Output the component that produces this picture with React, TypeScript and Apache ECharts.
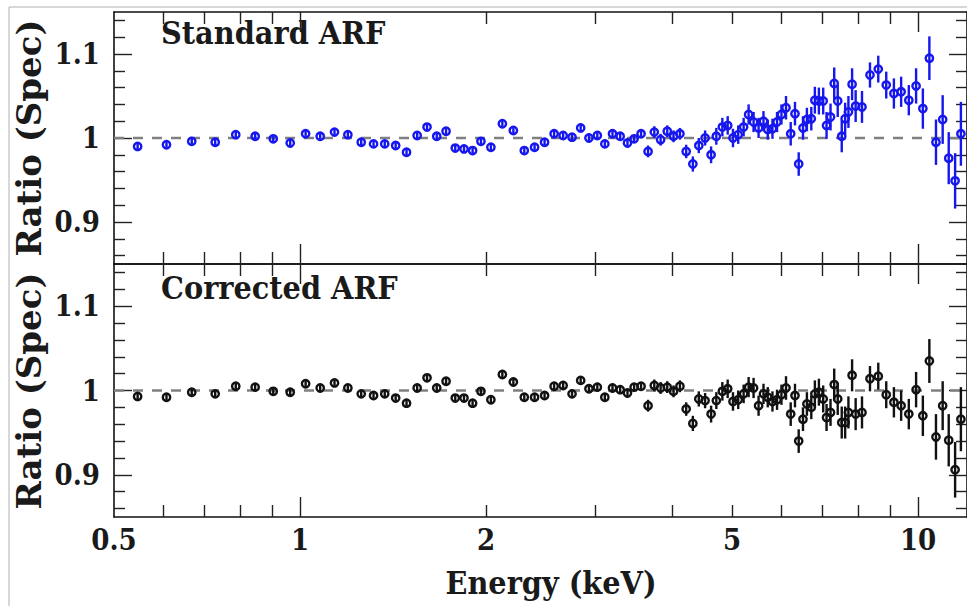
import * as echarts from 'echarts';
import React, { useEffect, useRef } from 'react';

// energies of the spectral bins (keV)
const energy = [
  0.546, 0.608, 0.668, 0.729, 0.787, 0.846, 0.905, 0.964, 1.021, 1.078,
  1.137, 1.195, 1.256, 1.315, 1.371, 1.428, 1.487, 1.547, 1.605, 1.664,
  1.723, 1.783, 1.842, 1.902, 1.962, 2.036, 2.125, 2.214, 2.306, 2.396,
  2.487, 2.577, 2.665, 2.755, 2.845, 2.934, 3.027, 3.113, 3.203, 3.296,
  3.387, 3.472, 3.563, 3.657, 3.743, 3.832, 3.928, 4.021, 4.118, 4.215,
  4.321, 4.418, 4.523, 4.625, 4.716, 4.823, 4.92, 5.018, 5.117, 5.221,
  5.319, 5.418, 5.52, 5.622, 5.712, 5.813, 5.913, 6.011, 6.114, 6.222,
  6.322, 6.41, 6.513, 6.609, 6.718, 6.808, 6.911, 7.023, 7.111, 7.217,
  7.317, 7.413, 7.525, 7.621, 7.715, 7.821, 7.925, 8.115, 8.36, 8.622,
  8.882, 9.139, 9.389, 9.661, 9.927, 10.18, 10.43, 10.69, 10.96, 11.21,
  11.48, 11.73,
];

const ratioStandard = [
  0.990, 0.992, 0.996, 0.995, 1.004, 1.002, 0.999, 0.994, 1.005, 1.002,
  1.007, 1.004, 0.995, 0.993, 0.993, 0.991, 0.983, 1.003, 1.013, 1.002,
  1.008, 0.988, 0.987, 0.985, 0.996, 0.989, 1.017, 1.009, 0.985, 0.989,
  0.995, 1.005, 1.003, 1.001, 1.012, 1.000, 1.003, 0.993, 1.005, 1.002,
  0.994, 0.999, 1.005, 0.984, 1.007, 0.998, 1.008, 1.002, 1.005, 0.984,
  0.969, 0.991, 1.000, 0.980, 1.002, 1.013, 1.015, 1.000, 1.004, 1.013,
  1.028, 1.019, 1.012, 1.020, 1.010, 1.011, 1.019, 1.028, 1.036, 1.005,
  1.029, 0.969, 1.012, 1.022, 1.023, 1.045, 1.044, 1.044, 1.015, 1.025,
  1.065, 1.044, 1.002, 1.023, 1.031, 1.064, 1.038, 1.037, 1.075, 1.082,
  1.063, 1.053, 1.055, 1.045, 1.062, 1.035, 1.095, 0.995, 1.022, 0.976,
  0.949, 1.005,
];

const ratioCorrected = [
  0.993, 0.992, 0.998, 0.996, 1.005, 1.004, 0.999, 0.998, 1.008, 1.003,
  1.009, 1.003, 0.996, 0.994, 0.996, 0.991, 0.985, 1.003, 1.015, 1.003,
  1.011, 0.991, 0.991, 0.985, 0.999, 0.989, 1.019, 1.010, 0.992, 0.992,
  0.994, 1.005, 1.006, 0.996, 1.012, 1.002, 1.004, 0.992, 1.003, 1.001,
  0.997, 1.004, 1.005, 0.982, 1.006, 1.003, 1.004, 0.999, 1.005, 0.978,
  0.961, 0.990, 0.988, 0.972, 0.988, 0.999, 1.002, 0.987, 0.989, 0.996,
  1.004, 1.003, 0.982, 0.996, 0.992, 0.987, 0.989, 0.995, 1.003, 0.972,
  0.994, 0.940, 0.966, 0.984, 0.980, 0.996, 0.998, 0.990, 0.968, 0.974,
  1.007, 0.990, 0.962, 0.962, 0.974, 1.018, 0.972, 0.974, 1.014, 1.017,
  0.995, 0.986, 0.982, 0.972, 1.001, 0.970, 1.035, 0.945, 0.982, 0.941,
  0.906, 0.966,
];

// 1-sigma error on the ratio
const ratioError = [
  0.004, 0.004, 0.004, 0.004, 0.004, 0.004, 0.004, 0.004, 0.004, 0.004,
  0.004, 0.004, 0.004, 0.004, 0.004, 0.004, 0.004, 0.004, 0.004, 0.004,
  0.004, 0.004, 0.004, 0.004, 0.004, 0.004, 0.004, 0.004, 0.004, 0.004,
  0.005, 0.005, 0.005, 0.005, 0.005, 0.005, 0.005, 0.005, 0.005, 0.005,
  0.005, 0.005, 0.005, 0.007, 0.007, 0.007, 0.007, 0.007, 0.007, 0.008,
  0.009, 0.009, 0.009, 0.010, 0.010, 0.011, 0.011, 0.011, 0.011, 0.011,
  0.012, 0.012, 0.012, 0.012, 0.012, 0.012, 0.012, 0.012, 0.014, 0.014,
  0.014, 0.014, 0.014, 0.014, 0.014, 0.016, 0.016, 0.016, 0.016, 0.016,
  0.019, 0.019, 0.019, 0.019, 0.019, 0.019, 0.019, 0.019, 0.015, 0.016,
  0.016, 0.018, 0.018, 0.018, 0.021, 0.024, 0.026, 0.027, 0.029, 0.031,
  0.033, 0.038,
];

const energyRange = [0.5, 12];
const ratioRange = [0.85, 1.15];
const xTickLabels = [0.5, 1, 2, 5, 10];
const xTickMajor = [1, 10];
const xTickMinor = [0.6, 0.7, 0.8, 0.9, 2, 3, 4, 5, 6, 7, 8, 9];
const yTickMajor = [0.9, 1, 1.1];
const yTickMinor = [0.86, 0.88, 0.92, 0.94, 0.96, 0.98, 1.02, 1.04, 1.06, 1.08, 1.12, 1.14];
const panelTitles = ['Standard ARF', 'Corrected ARF'];
const panelColors = ['#1616ee', '#111111'];

const FONT = "'DejaVu Serif Condensed', 'DejaVu Serif', serif";
const WIDE_FONT = "'DejaVu Serif', serif";
const INK = '#1a1a1a';
const lg = (v: number) => Math.log10(v);

const textStyle = {
  fontFamily: FONT,
  fontWeight: 'bold' as const,
  fontSize: 29,
  color: INK,
};

const xAxisFor = (
  grid: number,
  position: 'top' | 'bottom',
  ticks: number[],
  length: number,
  withLabels: boolean,
  withLine: boolean,
) => ({
  type: 'value',
  gridIndex: grid,
  position,
  min: lg(energyRange[0]),
  max: lg(energyRange[1]),
  axisLine: { show: withLine, onZero: false, lineStyle: { color: '#111', width: 1.6 } },
  axisTick: {
    show: true,
    inside: true,
    length,
    customValues: ticks.map(lg),
    lineStyle: { color: '#222', width: 1.4 },
  },
  axisLabel: withLabels
    ? {
        show: true,
        customValues: xTickLabels.map(lg),
        margin: 8,
        formatter: (v: number) => String(Number(Math.pow(10, v).toPrecision(3))),
        ...textStyle,
      }
    : { show: false },
  splitLine: { show: false },
});

const yAxisFor = (
  grid: number,
  position: 'left' | 'right',
  ticks: number[],
  length: number,
  withLabels: boolean,
  withLine: boolean,
) => ({
  type: 'value',
  gridIndex: grid,
  position,
  min: ratioRange[0],
  max: ratioRange[1],
  axisLine: { show: withLine, onZero: false, lineStyle: { color: '#111', width: 1.6 } },
  axisTick: {
    show: true,
    inside: true,
    length,
    customValues: ticks,
    lineStyle: { color: '#222', width: 1.4 },
  },
  axisLabel: withLabels
    ? {
        show: true,
        customValues: yTickMajor,
        margin: 14,
        formatter: (v: number) => String(Number(v.toFixed(2))),
        ...textStyle,
      }
    : { show: false },
  splitLine: { show: false },
});

const App: React.FC = () => {
  const chartRef = useRef<HTMLDivElement>(null);

  useEffect(() => {
    if (!chartRef.current) return;
    const chart = echarts.init(chartRef.current, undefined, { renderer: 'svg' });

    const grids = [
      { left: 114, top: 12, width: 857, height: 252 },
      { left: 114, top: 264, width: 857, height: 253 },
    ];

    const xAxes: any[] = [];
    const yAxes: any[] = [];
    const series: any[] = [];

    [0, 1].forEach((g) => {
      // index 4 * g is the main axis of each panel
      xAxes.push(xAxisFor(g, 'bottom', xTickMajor, 20, g === 1, true));
      xAxes.push(xAxisFor(g, 'bottom', xTickMinor, 12, false, false));
      xAxes.push(xAxisFor(g, 'top', xTickMajor, 20, false, true));
      xAxes.push(xAxisFor(g, 'top', xTickMinor, 12, false, false));

      yAxes.push(yAxisFor(g, 'left', yTickMajor, 18, true, true));
      yAxes.push(yAxisFor(g, 'left', yTickMinor, 11, false, false));
      yAxes.push(yAxisFor(g, 'right', yTickMajor, 18, false, true));
      yAxes.push(yAxisFor(g, 'right', yTickMinor, 11, false, false));

      const values = g === 0 ? ratioStandard : ratioCorrected;
      const color = panelColors[g];

      series.push({
        type: 'line',
        xAxisIndex: 4 * g,
        yAxisIndex: 4 * g,
        data: energyRange.map((e) => [lg(e), 1]),
        symbol: 'none',
        silent: true,
        lineStyle: { type: [10, 9], color: '#808080', width: 2.5 },
        z: 1,
      });

      series.push({
        type: 'custom',
        coordinateSystem: 'cartesian2d',
        xAxisIndex: 4 * g,
        yAxisIndex: 4 * g,
        data: energy.map((e, i) => [lg(e), values[i], ratioError[i]]),
        encode: { x: 0, y: 1 },
        z: 3,
        renderItem: (_params: any, api: any) => {
          const x = api.value(0);
          const y = api.value(1);
          const err = api.value(2);
          const c = api.coord([x, y]);
          const hi = api.coord([x, y + err]);
          const lo = api.coord([x, y - err]);
          return {
            type: 'group',
            children: [
              {
                type: 'line',
                shape: { x1: c[0], y1: hi[1], x2: c[0], y2: lo[1] },
                style: { stroke: color, lineWidth: 2.4 },
              },
              {
                type: 'circle',
                shape: { cx: c[0], cy: c[1], r: 3.7 },
                style: { fill: 'none', stroke: color, lineWidth: 2.4 },
              },
            ],
          };
        },
      });
    });

    const titleStyle = {
      fontFamily: FONT,
      fontWeight: 'bold',
      fontSize: 32,
      fill: INK,
    };
    const yNameStyle = {
      ...titleStyle,
      fontFamily: WIDE_FONT,
      fontSize: 34,
      text: 'Ratio (Spec)',
      align: 'center',
      verticalAlign: 'middle',
    };

    chart.setOption({
      animation: false,
      backgroundColor: '#ffffff',
      grid: grids,
      xAxis: xAxes,
      yAxis: yAxes,
      series,
      graphic: [
        {
          type: 'rect',
          silent: true,
          z: -1,
          shape: { x: 9, y: 7, width: 1000, height: 700 },
          style: { fill: 'none', stroke: '#b0b0b0', lineWidth: 1 },
        },
        {
          type: 'text',
          x: 161,
          y: 33,
          style: { ...titleStyle, text: panelTitles[0], verticalAlign: 'middle' },
        },
        {
          type: 'text',
          x: 161,
          y: 288,
          style: { ...titleStyle, text: panelTitles[1], verticalAlign: 'middle' },
        },
        { type: 'text', x: 29, y: 138, rotation: Math.PI / 2, style: yNameStyle },
        { type: 'text', x: 29, y: 391, rotation: Math.PI / 2, style: yNameStyle },
        {
          type: 'text',
          x: 551,
          y: 583,
          style: { ...titleStyle, text: 'Energy (keV)', align: 'center', verticalAlign: 'middle' },
        },
      ],
    });

    return () => {
      chart.dispose();
    };
  }, []);

  return (
    <div
      ref={chartRef}
      style={{ position: 'absolute', left: 0, top: 0, width: '967px', height: '606px', background: '#fff' }}
    />
  );
};

export default App;
